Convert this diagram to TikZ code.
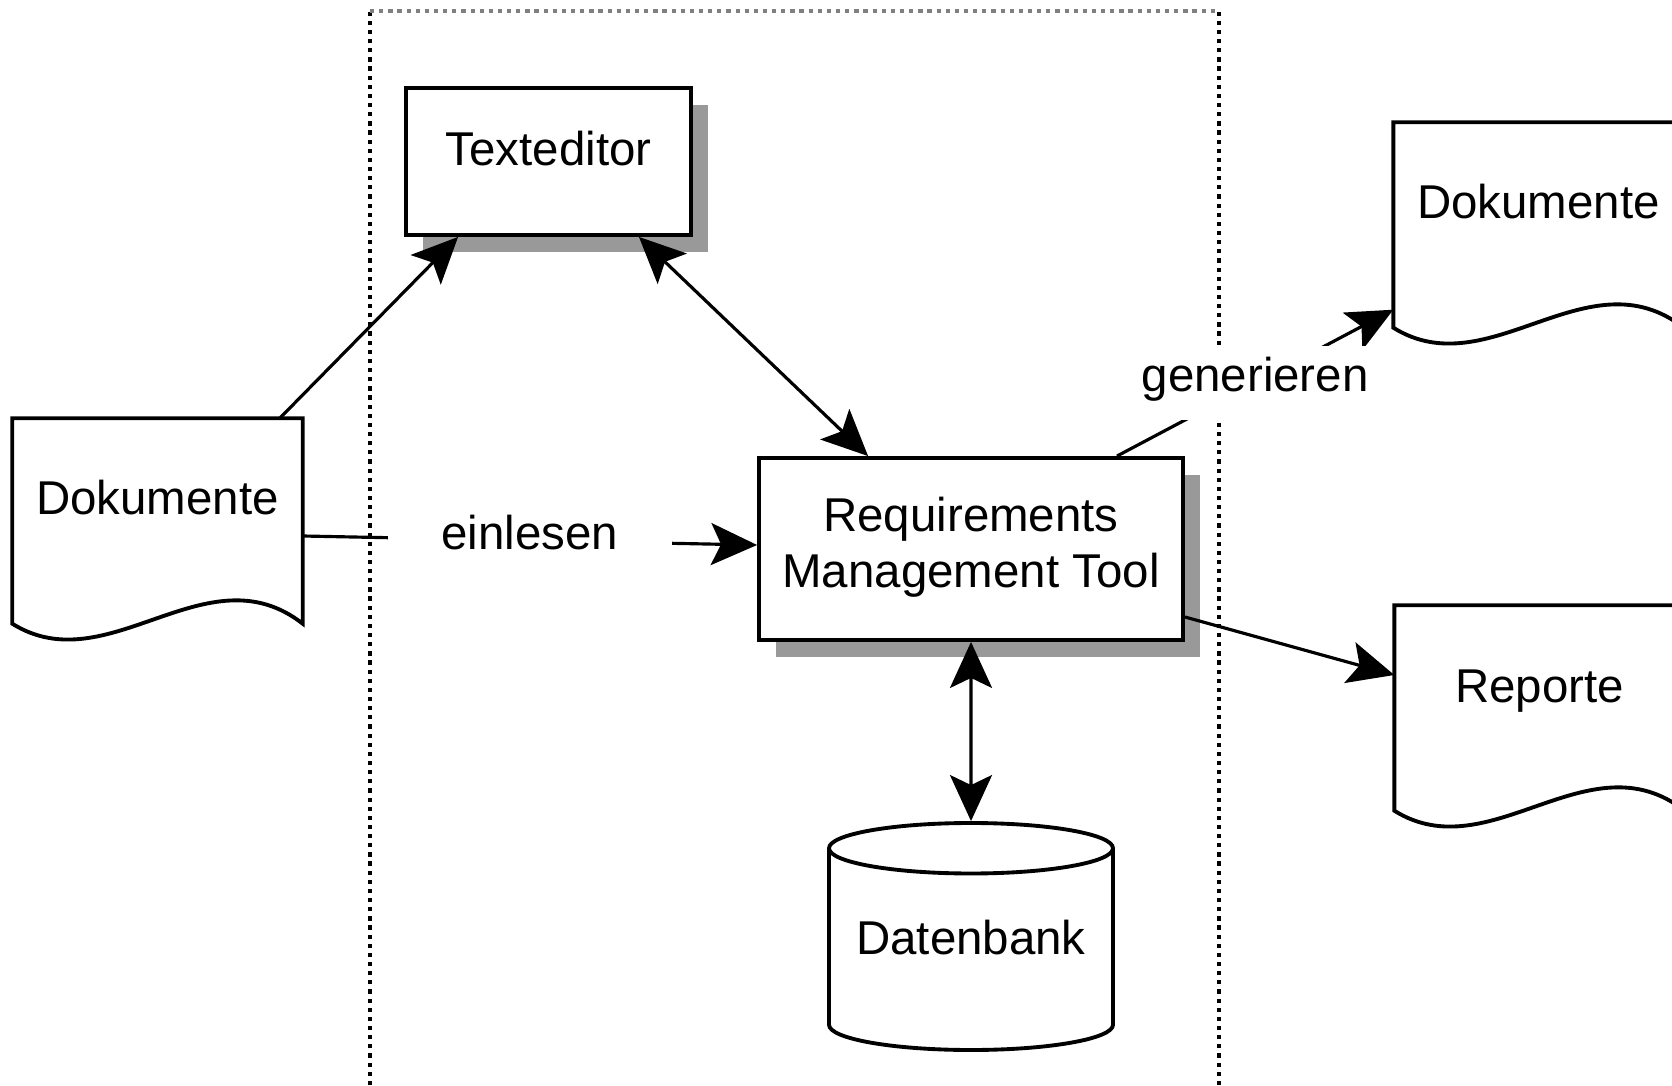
\documentclass[tikz,border=0pt]{standalone}
\usepackage{fontspec}
\setmainfont{Liberation Sans}
\usepackage{tikz}
\usetikzlibrary{arrows.meta}
\usetikzlibrary{shapes.geometric}
\usetikzlibrary{shadows}
\newcommand{\shadowoffset}{0.17cm}
\newcommand{\docoutline}[1]{\draw[docline] (#1.south west) .. controls +(0.96,-0.6) and +(-0.96,0.75) .. (#1.south east) -- (#1.north east) -- (#1.north west) -- cycle;}
\tikzstyle{tool}=[draw, fill=white, line width=1.1pt, inner sep=0, align=center,
                  general shadow={fill=gray!80, shadow xshift=\shadowoffset, shadow yshift=-\shadowoffset}]
\tikzstyle{doc}=[inner sep=0, minimum width=2.89cm, text height=0.96cm, text depth=1.08cm]
\tikzstyle{docline}=[line width=1.1pt]
\tikzstyle{store}=[draw, line width=1.1pt, cylinder, shape border rotate=90, aspect=0.22,
                   inner sep=0, minimum width=2.84cm, minimum height=2.27cm,
                   text depth=0.25cm, anchor=shape center]
\tikzstyle{flow}=[line width=0.9pt, ->]
\tikzstyle{biflow}=[line width=0.9pt, <->]
\tikzstyle{edgelabel}=[fill=white, inner ysep=0.11cm, inner xsep=0.54cm, text depth=0.17cm]
\tikzstyle{boundary}=[line width=1.2pt, dash pattern=on 1.2pt off 1.4pt]
\tikzstyle{diagram}=[>={Stealth[length=0.46cm, width=0.42cm, inset=0.1cm]},
                     % Same face and size for every label.
                     every node/.style={font=\fontsize{13.5}{15.9}\selectfont}]

\begin{document}
\begin{tikzpicture}[diagram]
    \useasboundingbox (0, 0) rectangle (16.72, 10.85);
    \clip (0, 0) rectangle (16.72, 10.85);
    \draw[boundary] (3.70, 0) -- (3.70, 10.74);
    \draw[boundary] (12.19, 0) -- (12.19, 10.74);
    \draw[boundary, gray] (3.70, 10.74) -- (12.19, 10.74);

    \node[doc]                                        (docL) at (1.575, 5.64) {Dokumente};
    \node[doc]                                        (dokR) at (15.385, 8.60) {Dokumente};
    \node[doc]                                        (rep) at (15.395, 3.77) {Reporte};
    \node[tool, minimum width=2.85cm, minimum height=1.47cm, text depth=0.27cm] (ted) at (5.485, 9.235) {Texteditor};
    \node[tool, minimum width=4.24cm, minimum height=1.82cm, text depth=0.14cm] (rmt) at (9.71, 5.36) {Requirements\\Management Tool};
    \node[store]                                      (db) at (9.71, 1.485) {Datenbank};
    \docoutline{docL}
    \docoutline{dokR}
    \docoutline{rep}

    \draw[flow] ([xshift=-0.23cm]docL.north east) -- ([xshift=0.54cm]ted.south west);
    \draw[biflow] ([xshift=-0.54cm]ted.south east) -- ([xshift=1.11cm]rmt.north west);
    \draw[flow] ([yshift=-0.15cm]docL.east) -- node[edgelabel] (read) {einlesen} ([yshift=0.04cm]rmt.west);
    \draw[biflow] (rmt.south) -- (db.north);
    \draw[flow] ([xshift=-0.68cm]rmt.north east) -- node[edgelabel, inner xsep=0.1cm] (gen) {generieren} ([yshift=0.18cm]dokR.south west);
    \draw[flow] ([yshift=-0.68cm]rmt.east) -- ([yshift=0.33cm]rep.west);
\end{tikzpicture}
\end{document}
